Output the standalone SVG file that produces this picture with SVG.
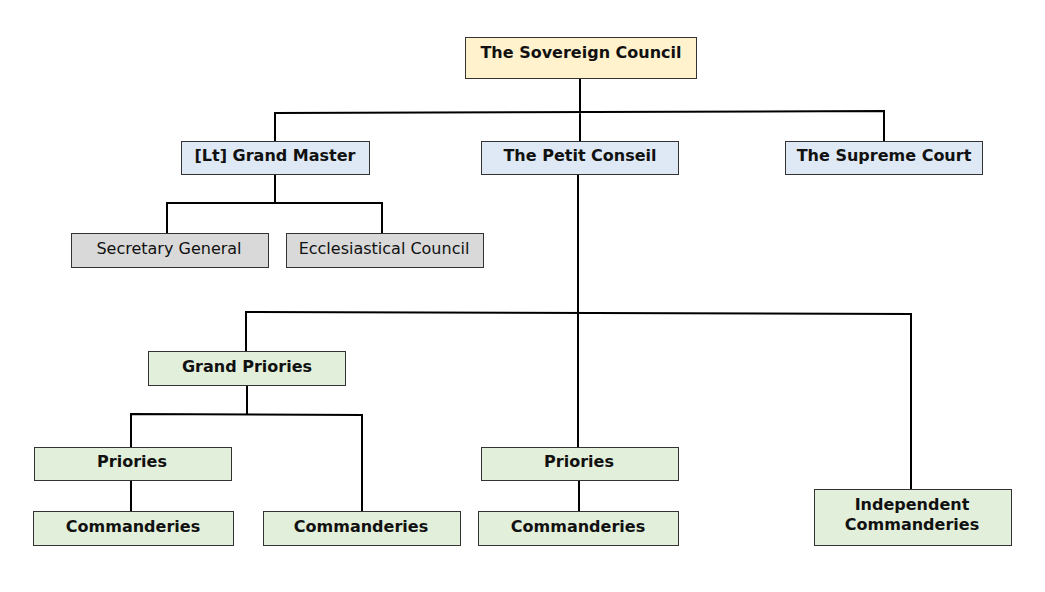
<svg xmlns="http://www.w3.org/2000/svg" width="1045" height="592" viewBox="0 0 1045 592">
<style>
rect{stroke:#333;stroke-width:1}
.y{fill:#fff2cc}.b{fill:#dee9f5}.g{fill:#d9d9d9}.gr{fill:#e2efda}
text{font-family:"DejaVu Sans",Verdana,sans-serif;font-size:16px;fill:#111;text-anchor:middle}
.bd{font-weight:bold}
.c{fill:none;stroke:#000;stroke-width:2}
</style>
<rect width="1045" height="592" fill="#fff" style="stroke:none"/>
<g id="connectors">
<path class="c" d="M580 78V112M275 141V113L884 111V141M580 112V141"/>
<path class="c" d="M275 174V203M167 233V203H382V233"/>
<path class="c" d="M578 174V447M246 351V312L911 314V489"/>
<path class="c" d="M247 385V414M131 447V414L362 415V511"/>
<path class="c" d="M131 480V511M579 480V511"/>
</g>
<g id="sovereign"><rect class="y" x="465.5" y="37.5" width="231" height="41"/><text class="bd" x="581" y="58">The Sovereign Council</text></g>
<g id="grandmaster"><rect class="b" x="181.5" y="141.5" width="188" height="33"/><text class="bd" x="275" y="161">[Lt] Grand Master</text></g>
<g id="petit"><rect class="b" x="481.5" y="141.5" width="197" height="33"/><text class="bd" x="580" y="161">The Petit Conseil</text></g>
<g id="supreme"><rect class="b" x="785.5" y="141.5" width="197" height="33"/><text class="bd" x="884" y="161">The Supreme Court</text></g>
<g id="secretary"><rect class="g" x="71.5" y="233.5" width="197" height="34"/><text x="169" y="254">Secretary General</text></g>
<g id="ecclesiastical"><rect class="g" x="286.5" y="233.5" width="197" height="34"/><text x="384" y="254">Ecclesiastical Council</text></g>
<g id="grandpriories"><rect class="gr" x="148.5" y="351.5" width="197" height="34"/><text class="bd" x="247" y="372">Grand Priories</text></g>
<g id="priories1"><rect class="gr" x="34.5" y="447.5" width="197" height="33"/><text class="bd" x="132" y="467">Priories</text></g>
<g id="comm1"><rect class="gr" x="33.5" y="511.5" width="200" height="34"/><text class="bd" x="133" y="532">Commanderies</text></g>
<g id="comm2"><rect class="gr" x="263.5" y="511.5" width="197" height="34"/><text class="bd" x="361" y="532">Commanderies</text></g>
<g id="priories2"><rect class="gr" x="481.5" y="447.5" width="197" height="33"/><text class="bd" x="579" y="467">Priories</text></g>
<g id="comm3"><rect class="gr" x="478.5" y="511.5" width="200" height="34"/><text class="bd" x="578" y="532">Commanderies</text></g>
<g id="independent"><rect class="gr" x="814.5" y="489.5" width="197" height="56"/><text class="bd" x="912" y="510">Independent</text><text class="bd" x="912" y="530">Commanderies</text></g>
</svg>
